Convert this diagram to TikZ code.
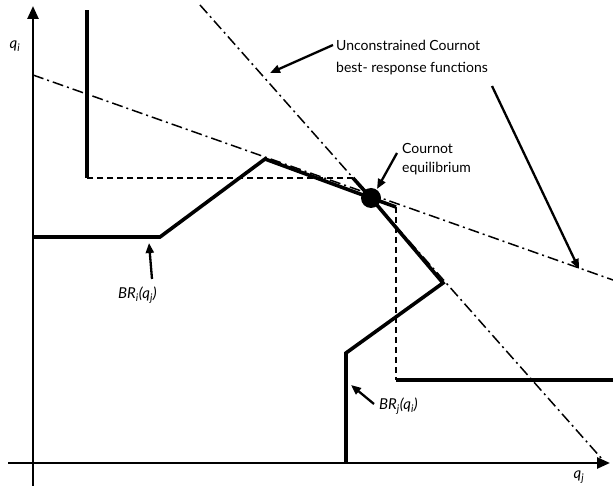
\documentclass[tikz,border=0pt]{standalone}
\usepackage{fontspec}
\setmainfont{Lato}
\usetikzlibrary{arrows.meta}
\newcommand{\sbs}[1]{\textsubscript{\itshape #1}}
\begin{document}
\begin{tikzpicture}[x=1pt,y=-1pt,
  axis/.style={line width=2.6pt,-{Triangle[length=13pt,width=11pt]}},
  brline/.style={line width=3.6pt,line join=miter},
  uncon/.style={line width=1.5pt,dash pattern=on 11pt off 4pt on 2pt off 4pt},
  guide/.style={line width=1.7pt,dash pattern=on 6pt off 4pt},
  pointer/.style={line width=2.3pt,-{Triangle[length=10pt,width=8pt]}},
  lbl/.style={font=\fontsize{14}{22}\selectfont,align=left,inner sep=0pt,anchor=west},
  lblb/.style={font=\fontsize{14}{19.5}\selectfont,align=left,inner sep=0pt,anchor=west},
  brlbl/.style={font=\itshape\fontsize{15}{17}\selectfont,inner sep=0pt,anchor=west}]
\useasboundingbox (0,0) rectangle (613,486);
% axes
\coordinate (ybot) at (33,486);
\coordinate (ytop) at (33,6);
\coordinate (xleft) at (8,463);
\coordinate (xright) at (610,463);
\draw[axis] (ybot) -- (ytop);
\draw[axis] (xleft) -- (xright);
\node[brlbl,anchor=center] (qi) at (15,46) {q\sbs{i}};
\node[brlbl,anchor=center] (qj) at (579,477) {q\sbs{j}};
% unconstrained lines
\coordinate (sA) at (33,75);
\coordinate (sB) at (613,280);
\coordinate (tA) at (200,5);
\coordinate (tB) at (602,459);
\draw[uncon] (sA) -- (sB);
\draw[uncon] (tA) -- (tB);
% key points
\coordinate (eq) at (371,198);
\coordinate (a1) at (33,237);
\coordinate (a2) at (160,237);
\coordinate (a3) at (265,159);
\coordinate (a4) at (396,207);
\coordinate (a5) at (396,380);
\coordinate (a6) at (613,380);
\coordinate (b1) at (346,463);
\coordinate (b2) at (346,353);
\coordinate (b3) at (443,283);
\coordinate (b4) at (353,178);
\coordinate (b5) at (87,178);
\coordinate (b6) at (87,10);
% BR_i
\draw[brline] (a1) -- (a2) -- (a3) -- (eq) -- (a4);
\draw[guide] (a4) -- (a5);
\draw[brline] (a5) -- (a6);
% BR_j
\draw[brline] (b1) -- (b2) -- (b3) -- (eq) -- (b4);
\draw[guide] (b4) -- (b5);
\draw[brline] (b5) -- (b6);
% equilibrium dot
\fill (eq) circle (10pt);
% labels
\node[lbl] (ucl) at (336,58) {Unconstrained Cournot\\best- response functions};
\coordinate (p1s) at (333,45);
\coordinate (p1e) at (270,73);
\draw[pointer] (p1s) -- (p1e);
\coordinate (p2s) at (492,86);
\coordinate (p2e) at (579,269);
\draw[pointer] (p2s) -- (p2e);
\node[lblb] (ceq) at (402,159) {Cournot\\equilibrium};
\coordinate (p3s) at (397,153);
\coordinate (p3e) at (377,189);
\draw[pointer] (p3s) -- (p3e);
\node[brlbl] (bri) at (118,295) {BR\sbs{i}(q\sbs{j})};
\coordinate (p4s) at (152,279);
\coordinate (p4e) at (149,243);
\draw[pointer] (p4s) -- (p4e);
\node[brlbl] (brj) at (379,406) {BR\sbs{j}(q\sbs{i})};
\coordinate (p5s) at (374,404);
\coordinate (p5e) at (351,385);
\draw[pointer] (p5s) -- (p5e);
\end{tikzpicture}
\end{document}
